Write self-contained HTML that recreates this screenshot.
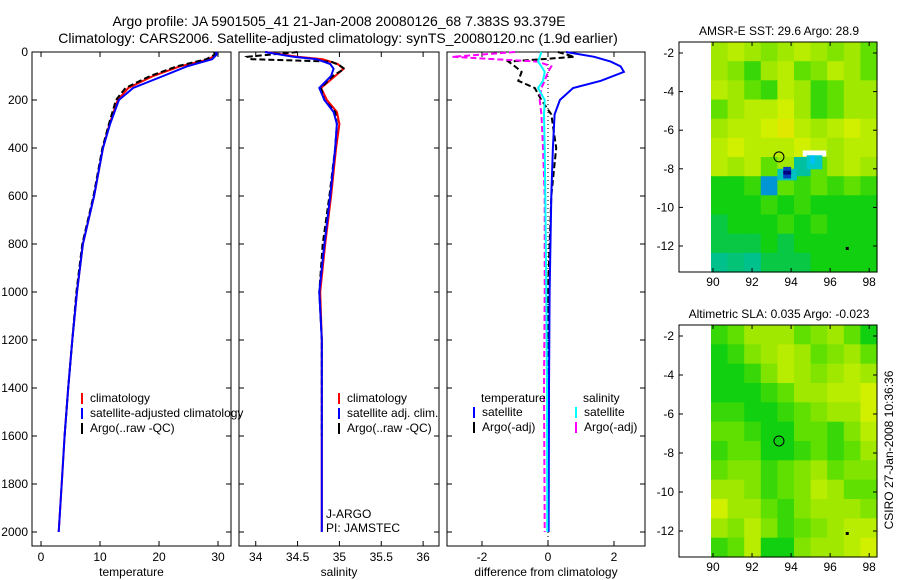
<!DOCTYPE html>
<html><head><meta charset="utf-8"><style>
html,body{margin:0;padding:0;background:#fff;}
svg{display:block;font-family:"Liberation Sans",sans-serif;}
</style></head><body>
<svg id="fig" width="900" height="580" viewBox="0 0 900 580">
<text x="339" y="26" font-size="14" text-anchor="middle">Argo profile: JA 5901505_41 21-Jan-2008 20080126_68 7.383S 93.379E</text>
<text x="338" y="43" font-size="14" text-anchor="middle">Climatology: CARS2006. Satellite-adjusted climatology: synTS_20080120.nc (1.9d earlier)</text>
<g id="plots"></g>
<text transform="translate(893,450) rotate(-90)" font-size="12" text-anchor="middle">CSIRO 27-Jan-2008 10:36:36</text>
</svg>
<script>
// ---- data ----
const tDepth=[0,10,30,60,100,150,200,300,400,600,800,1000,1200,1400,1600,1800,2000];
const tClim=[29.5,29.6,28.5,23.5,19,14.8,13,11.6,10.5,9,7.1,6.1,5.3,4.6,4.0,3.5,3.0];
const tSat=[29.6,29.8,29,24.7,20.7,15.6,13.2,11.7,10.5,9,7.1,6.1,5.3,4.6,4.0,3.5,3.0];
const tArgo=[29.3,29.5,28,23,18.5,14.3,12.7,11.5,10.4,8.9,7.0,6.0,5.3,4.6,4.0];
const sDepth=[0,20,30,50,70,100,150,200,250,300,400,600,800,1000,1200,1600,2000];
const sClim=[34.12,34.5,34.8,34.98,35.05,34.95,34.78,34.85,34.97,35.0,34.96,34.9,34.83,34.77,34.79,34.79,34.79];
const sSat=[34.11,34.45,34.73,34.89,34.93,34.9,34.76,34.82,34.93,34.97,34.95,34.89,34.82,34.76,34.79,34.79,34.79];
const sArgoDepth=[0,20,30,40,55,70,100,150,200,250,300,400,600,800,1000,1200,1600];
const sArgo=[34.5,33.9,33.95,34.9,35.0,35.06,34.92,34.78,34.82,34.95,34.97,34.95,34.88,34.8,34.76,34.79,34.79];
const dDepth=[0,20,40,60,83,120,150,200,260,400,600,1000,1400,2000];
const dTSat=[0.55,1.4,1.9,2.2,2.3,1.6,0.76,0.36,0.2,0.15,0.1,0.05,0.03,0.02];
const dTArgo=[0.3,0.8,-1.2,-1.0,-0.8,-0.9,-0.4,-0.2,0.1,0.25,0.1,0.0,0.0,0.0];
const dSSat=[-0.2,-0.25,-0.3,-0.2,-0.1,-0.15,-0.3,-0.1,-0.12,-0.1,-0.08,-0.05,-0.03,-0.02];
const dSArgo=[-1.0,-2.9,-0.3,0.1,0.0,-0.1,-0.2,-0.25,-0.2,-0.15,-0.1,-0.1,-0.12,-0.1];
const sstGrid=[
[.7,.75,.7,.65,.7,.75,.7,.65,.7,.6],
[.7,.65,.55,.7,.75,.6,.65,.75,.7,.6],
[.75,.7,.6,.55,.75,.7,.55,.6,.7,.7],
[.6,.7,.75,.75,.8,.7,.55,.6,.7,.7],
[.7,.75,.75,.8,.85,.75,.7,.75,.8,.75],
[.75,.8,.75,.75,.75,.8,.75,.7,.75,.75],
[.75,.7,.75,.6,.7,.35,.6,.7,.75,.7],
[.5,.5,.55,.25,.6,.55,.6,.55,.6,.55],
[.5,.5,.5,.55,.5,.55,.5,.5,.5,.5],
[.45,.5,.5,.5,.55,.5,.55,.5,.5,.5],
[.45,.45,.45,.5,.45,.5,.5,.5,.5,.5],
[.38,.4,.38,.45,.45,.45,.5,.5,.5,.5]];
const slaGrid=[
[.55,.6,.7,.7,.7,.6,.65,.7,.6,.5],
[.5,.55,.65,.7,.75,.7,.6,.65,.7,.6],
[.5,.5,.55,.65,.75,.7,.65,.7,.75,.7],
[.5,.5,.5,.55,.6,.7,.7,.75,.75,.8],
[.55,.55,.5,.5,.55,.6,.65,.7,.7,.8],
[.6,.6,.55,.5,.5,.6,.6,.55,.65,.75],
[.55,.6,.6,.5,.5,.55,.6,.55,.6,.7],
[.6,.65,.65,.55,.6,.65,.7,.6,.65,.65],
[.7,.7,.65,.55,.6,.65,.75,.7,.6,.6],
[.8,.7,.7,.6,.55,.65,.7,.7,.7,.65],
[.7,.65,.75,.65,.55,.6,.65,.7,.75,.75],
[.55,.6,.75,.5,.5,.65,.7,.7,.75,.8]];
const argoLon=93.379, argoLat=-7.383;

const NS="http://www.w3.org/2000/svg";
const root=document.getElementById('plots');
function mk(tag,attrs,parent){const e=document.createElementNS(NS,tag);for(const k in attrs)e.setAttribute(k,attrs[k]);(parent||root).appendChild(e);return e;}
function txt(x,y,s,size,anchor,parent){const t=mk('text',{x:x,y:y,'font-size':size||12,'text-anchor':anchor||'middle'},parent);t.textContent=s;return t;}

const yD=d=>52+0.24*d;
function panel(name,x0,x1,xmin,xmax,ticks,tickLabels,xlabel,showY){
  const g=mk('g',{});
  
  
  const sx=v=>x0+(v-xmin)/(xmax-xmin)*(x1-x0);
  mk('rect',{x:x0,y:52,width:x1-x0,height:494,fill:'none',stroke:'#000','stroke-width':1},g);
  ticks.forEach((t,i)=>{const x=sx(t);
    mk('line',{x1:x,x2:x,y1:546,y2:541,stroke:'#000'},g);
    mk('line',{x1:x,x2:x,y1:52,y2:57,stroke:'#000'},g);
    const l=txt(x,561,tickLabels[i],12,'middle',g);
    
    
  });
  for(let d=0;d<=2000;d+=200){const y=yD(d);
    mk('line',{x1:x0,x2:x0+5,y1:y,y2:y,stroke:'#000'},g);
    mk('line',{x1:x1,x2:x1-5,y1:y,y2:y,stroke:'#000'},g);
    if(showY){const l=txt(x0-4,y+4,String(d),12,'end',g);
      
      }
  }
  const xl=txt((x0+x1)/2,576,xlabel,12,'middle',g);
  
  
  return {g,sx};
}
function line(p,depths,vals,color,dash,name){
  const pts=vals.map((v,i)=>p.sx(v).toFixed(1)+','+yD(depths[i]).toFixed(1)).join(' ');
  const e=mk('polyline',{points:pts,fill:'none',stroke:color,'stroke-width':2,'stroke-dasharray':dash||'none'},p.g);
  
  
}
function legend(p,x,y,items){
  items.forEach((it,i)=>{
    const yy=y+i*15;
    mk('line',{x1:x,x2:x,y1:yy-9,y2:yy+2,stroke:it[1],'stroke-width':2},p.g);
    const t=txt(x+8,yy,it[0],12,'start',p.g);
    
    
  });
}
const p1=panel('temperature-panel',32,231,-1.53,32.2,[0,10,20,30],['0','10','20','30'],'temperature',true);
line(p1,tDepth,tClim,'#f00',null,'temp-climatology-line');
line(p1,tDepth.slice(0,tArgo.length),tArgo,'#000','6,3','temp-argo-line');
line(p1,tDepth,tSat,'#00f',null,'temp-satellite-line');
legend(p1,82,402,[['climatology','#f00'],['satellite-adjusted climatology','#00f'],['Argo(..raw -QC)','#000']]);
const p2=panel('salinity-panel',239,439,33.8,36.19,[34,34.5,35,35.5,36],['34','34.5','35','35.5','36'],'salinity',false);
line(p2,sDepth,sClim,'#f00',null,'sal-climatology-line');
line(p2,sArgoDepth,sArgo,'#000','6,3','sal-argo-line');
line(p2,sDepth,sSat,'#00f',null,'sal-satellite-line');
legend(p2,339,402,[['climatology','#f00'],['satellite adj. clim.','#00f'],['Argo(..raw -QC)','#000']]);
txt(326,518,'J-ARGO',12,'start',p2.g);
txt(326,532,'PI: JAMSTEC',12,'start',p2.g);
const p3=panel('difference-panel',447,645,-3.06,2.94,[-2,0,2],['-2','0','2'],'difference from climatology',false);
mk('line',{x1:p3.sx(0),x2:p3.sx(0),y1:52,y2:546,stroke:'#000','stroke-dasharray':'1,3'},p3.g);
line(p3,dDepth,dTArgo,'#000','6,3','diff-temp-argo-line');
line(p3,dDepth,dSArgo,'#f0f','6,3','diff-sal-argo-line');
line(p3,dDepth,dTSat,'#00f',null,'diff-temp-satellite-line');
line(p3,dDepth,dSSat,'#0ff',null,'diff-sal-satellite-line');
txt(481,402,'temperature',12,'start',p3.g);
txt(583,402,'salinity',12,'start',p3.g);
legend(p3,474,416,[['satellite','#00f'],['Argo(-adj)','#000']]);
legend(p3,576,416,[['satellite','#0ff'],['Argo(-adj)','#f0f']]);

const stops=[[0,[0,0,128]],[.15,[0,64,255]],[.3,[0,192,192]],[.38,[0,192,140]],[.5,[16,208,16]],[.6,[96,224,0]],[.7,[160,232,0]],[.8,[208,240,0]],[.9,[240,224,0]]];
function cmap(v){for(let i=1;i<stops.length;i++){if(v<=stops[i][0]){const a=stops[i-1],b=stops[i],f=(v-a[0])/(b[0]-a[0]);const c=a[1].map((x,k)=>Math.round(x+(b[1][k]-x)*f));return 'rgb('+c.join(',')+')';}}return 'rgb(240,224,0)';}
function map(name,top,bottom,title,grid,extras){
  const g=mk('g',{});
  
  
  const x0=679,x1=877,lonMin=88.26,lonMax=98.4;
  const y2=top+11,y12=bottom-26;
  const sy=lat=>y2+(-2-lat)*(y12-y2)/10;
  const sx=lon=>x0+(lon-lonMin)/(lonMax-lonMin)*(x1-x0);
  const lt=-2+(y2-top)/((y12-y2)/10);
  const rows=grid.length,cols=grid[0].length;
  const lat0=lt, latStep=(lt-(-2-(bottom-y2)/((y12-y2)/10)))/rows;
  const lonA=89.9,lonStep=(98.4-89.9)/cols;
  grid.forEach((row,r)=>row.forEach((v,c)=>{
    const xa=sx(lonA+c*lonStep),xb=sx(lonA+(c+1)*lonStep);
    const ya=sy(lat0-r*latStep),yb=sy(lat0-(r+1)*latStep);
    const cell=mk('rect',{x:xa.toFixed(1),y:ya.toFixed(1),width:(xb-xa+0.6).toFixed(1),height:(yb-ya+0.6).toFixed(1),fill:cmap(v)},g);
    
    
  }));
  if(extras)extras(sx,sy,g);
  mk('circle',{cx:sx(argoLon),cy:sy(argoLat),r:5,fill:'none',stroke:'#000'},g);
  mk('rect',{x:sx(96.8),y:sy(-12.05),width:3,height:3,fill:'#000'},g);
  mk('rect',{x:x0,y:top,width:x1-x0,height:bottom-top,fill:'none',stroke:'#000'},g);
  for(let lat=-2;lat>=-12;lat-=2){const y=sy(lat);
    mk('line',{x1:x0,x2:x0+4,y1:y,y2:y,stroke:'#000'},g);mk('line',{x1:x1,x2:x1-4,y1:y,y2:y,stroke:'#000'},g);
    txt(x0-5,y+4,String(lat),12,'end',g);}
  for(let lon=90;lon<=98;lon+=2){const x=sx(lon);
    mk('line',{x1:x,x2:x,y1:bottom,y2:bottom-4,stroke:'#000'},g);mk('line',{x1:x,x2:x,y1:top,y2:top+4,stroke:'#000'},g);
    txt(x,bottom+14,String(lon),12,'middle',g);}
  const t=txt(x0+100,top-7,title,12,'middle',g);
  
  
}
map('sst-map',42,272,'AMSR-E SST: 29.6 Argo: 28.9',sstGrid,(sx,sy,g)=>{
  mk('rect',{x:sx(94.6),y:sy(-7.05),width:sx(95.8)-sx(94.6),height:6,fill:'#fff'},g);
  mk('rect',{x:sx(94.8),y:sy(-7.3),width:sx(95.6)-sx(94.8),height:14,fill:'#00c8c8'},g);
  mk('rect',{x:sx(95.0),y:sy(-7.3),width:4,height:8,fill:'#00c0ff'},g);
  mk('rect',{x:sx(93.3),y:sy(-8.0),width:sx(94.3)-sx(93.3),height:sy(-8.6)-sy(-8.0),fill:'#00c0c0'},g);
  mk('rect',{x:sx(93.6),y:sy(-7.9),width:sx(94.0)-sx(93.6),height:sy(-8.5)-sy(-7.9),fill:'#0040c0'},g);
  mk('rect',{x:sx(93.6),y:sy(-8.1),width:sx(94.0)-sx(93.6),height:sy(-8.3)-sy(-8.1),fill:'#000080'},g);
});
map('sla-map',325,557,'Altimetric SLA: 0.035 Argo: -0.023',slaGrid,null);
</script>
</body></html>
